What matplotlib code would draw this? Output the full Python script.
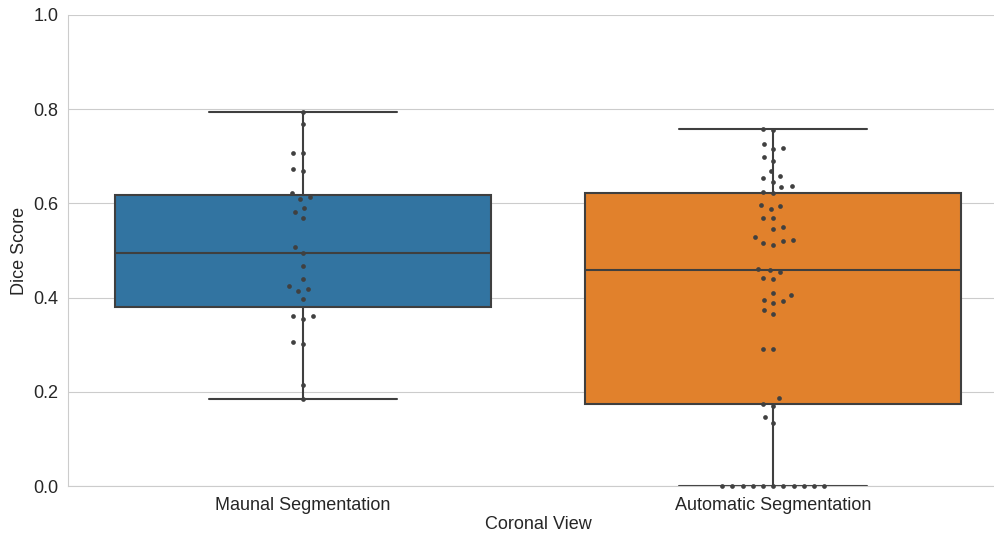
import matplotlib
matplotlib.use('Agg')
import matplotlib.pyplot as plt
import seaborn as sns
import pandas as pd

# Dice scores per segmentation method, coronal view
CATEGORIES = ["Maunal Segmentation", "Automatic Segmentation"]
COLORS = ["#3274a1", "#e1812c"]

manual_scores = [
    0.793, 0.768, 0.708, 0.706, 0.672, 0.669, 0.621, 0.614, 0.609,
    0.590, 0.581, 0.569, 0.507, 0.495, 0.468, 0.440, 0.425, 0.418,
    0.415, 0.397, 0.362, 0.361, 0.355, 0.305, 0.302, 0.215, 0.185,
]

automatic_scores = [
    0.758, 0.755, 0.726, 0.717, 0.716, 0.698, 0.691, 0.669, 0.659,
    0.654, 0.645, 0.636, 0.635, 0.625, 0.623, 0.597, 0.595, 0.589,
    0.570, 0.569, 0.549, 0.546, 0.529, 0.522, 0.520, 0.517, 0.512,
    0.460, 0.459, 0.455, 0.442, 0.439, 0.410, 0.405, 0.396, 0.392,
    0.389, 0.373, 0.365, 0.291, 0.291, 0.188, 0.174, 0.171, 0.146,
    0.133, 0.0, 0.0, 0.0, 0.0, 0.0, 0.0, 0.0, 0.0, 0.0, 0.0, 0.0,
]

df = pd.DataFrame({
    "method": [CATEGORIES[0]] * len(manual_scores) + [CATEGORIES[1]] * len(automatic_scores),
    "score": manual_scores + automatic_scores,
})

sns.set_style("whitegrid")
plt.rcParams['font.family'] = ['Liberation Sans', 'DejaVu Sans']
plt.rcParams['text.color'] = '#262626'
plt.rcParams['axes.labelcolor'] = '#262626'
plt.rcParams['xtick.color'] = '#262626'
plt.rcParams['ytick.color'] = '#262626'

fig = plt.figure(figsize=(9.95, 5.33), dpi=100)
ax = fig.add_axes([0.0683, 0.088, 0.945, 0.884])

sns.boxplot(data=df, x="method", y="score", hue="method", order=CATEGORIES,
            palette=COLORS, saturation=1, width=0.8, showfliers=False,
            linecolor="#3f3f3f", linewidth=1.5, legend=False, ax=ax)

# lay out the swarm with wide spacing, then redraw the dots smaller
n_before = len(ax.collections)
sns.swarmplot(data=df, x="method", y="score", order=CATEGORIES,
              color=".25", size=7, ax=ax)
ax.set_ylim(0, 1.0)
fig.canvas.draw()
swarms = list(ax.collections[n_before:])
for swarm in swarms:
    offsets = swarm.get_offsets().copy()
    swarm.remove()
    ax.scatter(offsets[:, 0], offsets[:, 1], s=3.4 ** 2, color="#404040",
               linewidths=0, zorder=5, clip_on=False)

ax.set_xlim(-0.5, 1.5)
ax.set_ylim(0, 1.0)
ax.set_xlabel("Coronal View", fontsize=13, labelpad=2)
ax.set_ylabel("Dice Score", fontsize=13, labelpad=4)
ax.tick_params(axis='both', labelsize=13)
ax.tick_params(axis='x', pad=4)
sns.despine(ax=ax)

fig.savefig("out.png", dpi=100)
